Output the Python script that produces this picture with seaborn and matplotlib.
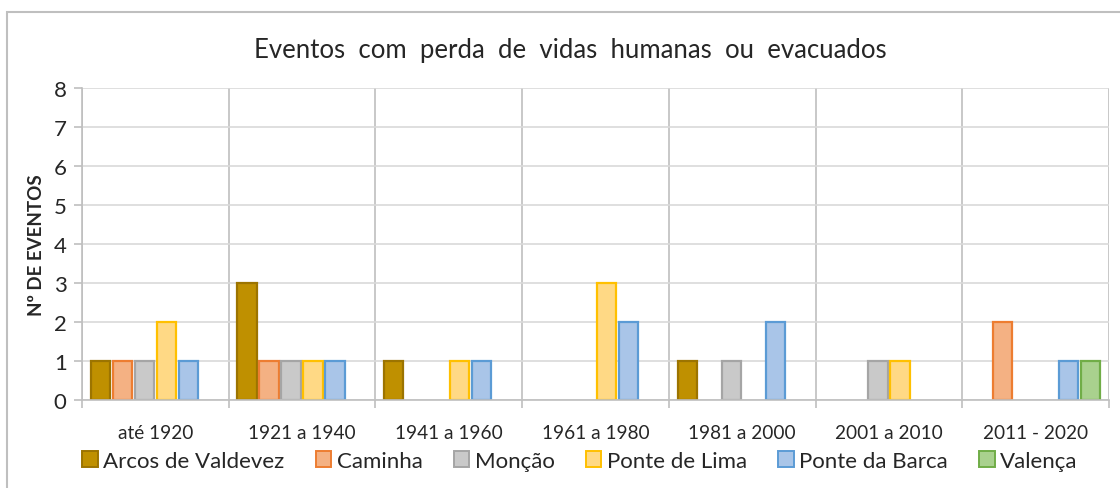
import matplotlib.pyplot as plt
import numpy as np
import pandas as pd
import seaborn as sns
from matplotlib.patches import Patch, Rectangle

periods = ["até 1920", "1921 a 1940", "1941 a 1960", "1961 a 1980",
           "1981 a 2000", "2001 a 2010", "2011 - 2020"]
municipalities = ["Arcos de Valdevez", "Caminha", "Monção",
                  "Ponte de Lima", "Ponte da Barca", "Valença"]

arcos_de_valdevez = [1, 3, 1, 0, 1, 0, 0]
caminha = [1, 1, 0, 0, 0, 0, 2]
moncao = [1, 1, 0, 0, 1, 1, 0]
ponte_de_lima = [2, 1, 1, 3, 0, 1, 0]
ponte_da_barca = [1, 1, 1, 2, 2, 0, 1]
valenca = [0, 0, 0, 0, 0, 0, 1]

fill_colors = ["#bf9000", "#f4b183", "#c9c9c9", "#ffd985", "#a9c5e8", "#a9d18e"]
edge_colors = ["#9c7400", "#ed7d31", "#a5a5a5", "#ffc000", "#5b9bd5", "#70ad47"]

series = [arcos_de_valdevez, caminha, moncao, ponte_de_lima, ponte_da_barca, valenca]
rows = []
for name, values in zip(municipalities, series):
    for period, v in zip(periods, values):
        rows.append({"Período": period, "Concelho": name, "Eventos": v})
df = pd.DataFrame(rows)

sns.set_theme(style="white")
plt.rcParams["font.family"] = ["Lato", "DejaVu Sans"]

fig = plt.figure(figsize=(11.2, 4.89), dpi=100)
ax = fig.add_axes([82 / 1120, 1 - 401 / 489, (1109 - 82) / 1120, (401 - 89) / 489])

sns.barplot(
    data=df, x="Período", y="Eventos", hue="Concelho",
    order=periods, hue_order=municipalities, palette=fill_colors,
    width=0.9, gap=0.12, legend=False, ax=ax, saturation=1,
)

# Excel-style outlined bars, hide empty ones
for container, ec in zip(ax.containers, edge_colors):
    for bar in container:
        bar.set_edgecolor(ec)
        bar.set_linewidth(1.6)
        if bar.get_height() == 0:
            bar.set_visible(False)

ax.set_xlim(-0.5, len(periods) - 0.5)
ax.set_ylim(0, 8)
ax.set_yticks(range(0, 9))
ax.yaxis.grid(True, color="#d9d9d9", linewidth=1.2)
ax.set_xticks(np.arange(-0.5, len(periods), 1), minor=True)
ax.xaxis.grid(True, which="minor", color="#bfbfbf", linewidth=1.2)
ax.set_axisbelow(True)
ax.tick_params(axis="x", which="major", length=0, labelsize=13.7, pad=17,
               labelcolor="#262626")
ax.tick_params(axis="x", which="minor", length=6, direction="out",
               color="#bfbfbf", width=1.2, bottom=True)
ax.tick_params(axis="y", length=6, direction="out", color="#bfbfbf", width=1.2,
               labelsize=16, left=True, pad=5, labelcolor="#262626")
for side in ["top", "right"]:
    ax.spines[side].set_visible(False)
for side in ["left", "bottom"]:
    ax.spines[side].set_color("#bfbfbf")
    ax.spines[side].set_linewidth(1.2)

ax.set_xlabel("")
ax.set_ylabel("Nº DE EVENTOS", fontsize=13.5, fontweight="bold", color="#262626",
              labelpad=6)
fig.text(570 / 1120, 1 - 51 / 489, "Eventos  com  perda  de  vidas  humanas  ou  evacuados",
         ha="center", va="center", fontsize=18.5, color="#262626")

handles = [Patch(facecolor=f, edgecolor=e, linewidth=1.4)
           for f, e in zip(fill_colors, edge_colors)]
fig.legend(handles, municipalities, loc="center", bbox_to_anchor=(580 / 1120, 1 - 462 / 489),
           ncol=6, frameon=False, fontsize=16, handlelength=0.7, handleheight=0.7,
           handletextpad=0.25, columnspacing=1.4, labelcolor="#262626")

fig.patches.append(Rectangle((7 / 1120, -0.2), 1.2, 1.2 - 13 / 489, transform=fig.transFigure,
                             fill=False, edgecolor="#bfbfbf", linewidth=1.5))

fig.savefig("out.png", dpi=100)
